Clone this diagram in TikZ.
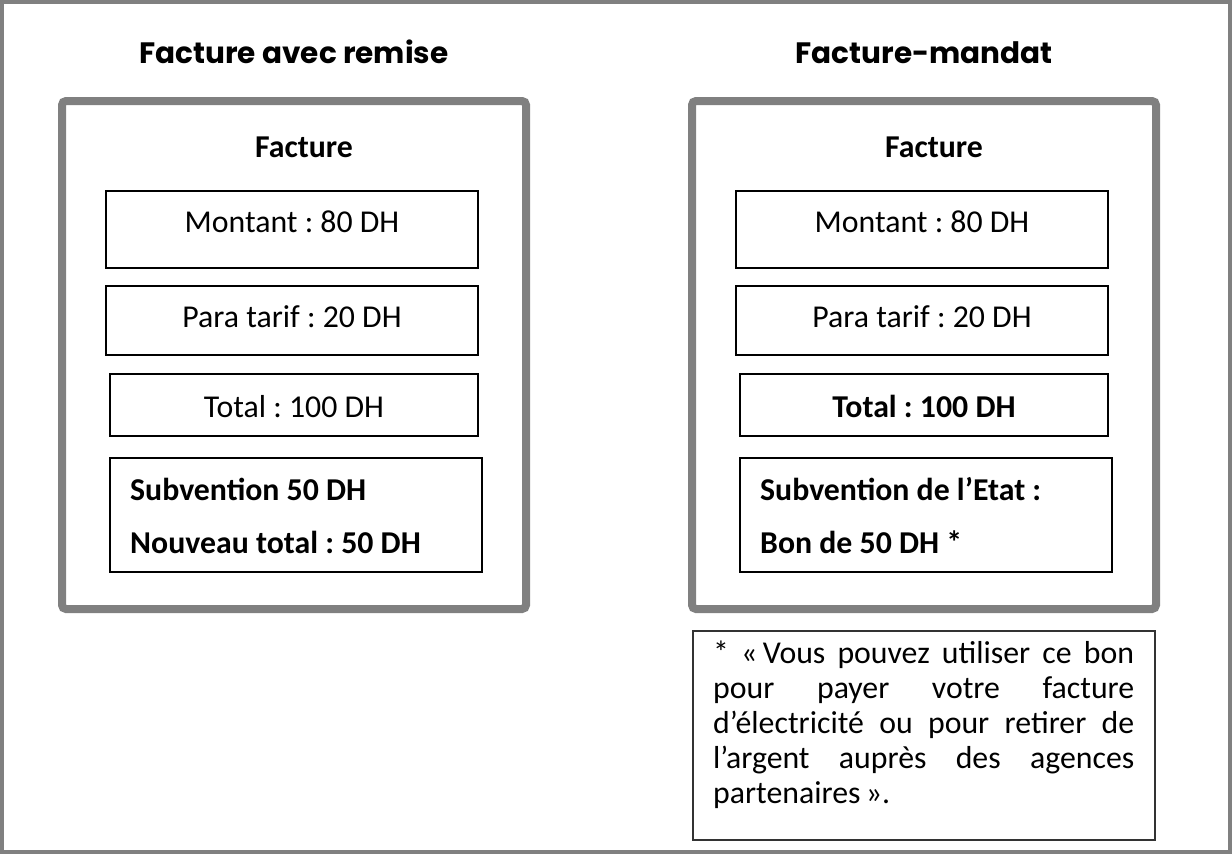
\documentclass[tikz,border=0pt]{standalone}
\usepackage{fontspec}
\setmainfont{Carlito}
\newfontfamily\headfont{Poppins}
\usetikzlibrary{positioning}
\frenchspacing

\tikzset{
  panel/.style={draw=gray, line width=8pt, rounded corners=4pt,
    minimum width=464pt, minimum height=508pt},
  cell/.style={draw=black, line width=2pt, minimum width=372pt},
  notebox/.style={draw=black!80, line width=1.5pt,
    minimum width=462pt, minimum height=209pt},
  txt/.style={inner sep=0pt, anchor=base, font=\fontsize{31.8}{38}\selectfont},
  btxt/.style={txt, font=\fontsize{31.8}{38}\selectfont\bfseries},
  heading/.style={inner sep=0pt, anchor=base,
    font=\headfont\fontsize{29.5}{35}\selectfont\bfseries},
  notetxt/.style={inner sep=0pt, anchor=north west, text width=421pt,
    align=justify, font=\fontsize{31.8}{35}\selectfont}
}

\begin{document}
\begin{tikzpicture}[x=1pt,y=-1pt]
\useasboundingbox (0,0) rectangle (1232,854);
\draw[gray, line width=4pt] (2,2) rectangle (1230,852);

% facture avec remise
\node[heading] (titleA) at (294,63) {Facture avec remise};
\node[panel] (panelA) at (294,355) {};
\node[btxt] (factA) at (304,157) {Facture};
\node[cell, minimum height=77pt] (montA) at (292,229.5) {};
\node[cell, minimum height=69pt] (paraA) at (292,320.5) {};
\node[cell, minimum width=368pt, minimum height=62pt] (totA) at (294,405) {};
\node[cell, minimum height=114pt] (subA) at (296,515) {};
\node[txt] (montAt) at (292,232) {Montant : 80 DH};
\node[txt] (paraAt) at (292,327) {Para tarif : 20 DH};
\node[txt] (totAt) at (294,417) {Total : 100 DH};
\node[btxt, anchor=base west] (subAa) at (130,500) {Subvention 50 DH};
\node[btxt, anchor=base west] (subAb) at (130,553) {Nouveau total : 50 DH};

% facture-mandat
\node[heading] (titleB) at (924,63) {Facture-mandat};
\node[panel] (panelB) at (924,355) {};
\node[btxt] (factB) at (934,157) {Facture};
\node[cell, minimum height=77pt] (montB) at (922,229.5) {};
\node[cell, minimum height=69pt] (paraB) at (922,320.5) {};
\node[cell, minimum width=368pt, minimum height=62pt] (totB) at (924,405) {};
\node[cell, minimum height=114pt] (subB) at (926,515) {};
\node[txt] (montBt) at (922,232) {Montant : 80 DH};
\node[txt] (paraBt) at (922,327) {Para tarif : 20 DH};
\node[btxt] (totBt) at (924,417) {Total : 100 DH};
\node[btxt, anchor=base west] (subBa) at (760,500) {Subvention de l’Etat :};
\node[btxt, anchor=base west] (subBb) at (760,553) {Bon de 50 DH *};

% footnote on the voucher
\node[notebox] (note) at (924,735.5) {};
\node[notetxt] (notet) at (713,641) {\hyphenpenalty=10000
  * «\,Vous pouvez utiliser ce bon\linebreak
  pour payer votre facture\linebreak
  d’électricité ou pour retirer de\linebreak
  l’argent auprès des agences\linebreak
  partenaires\,».};
\end{tikzpicture}
\end{document}
